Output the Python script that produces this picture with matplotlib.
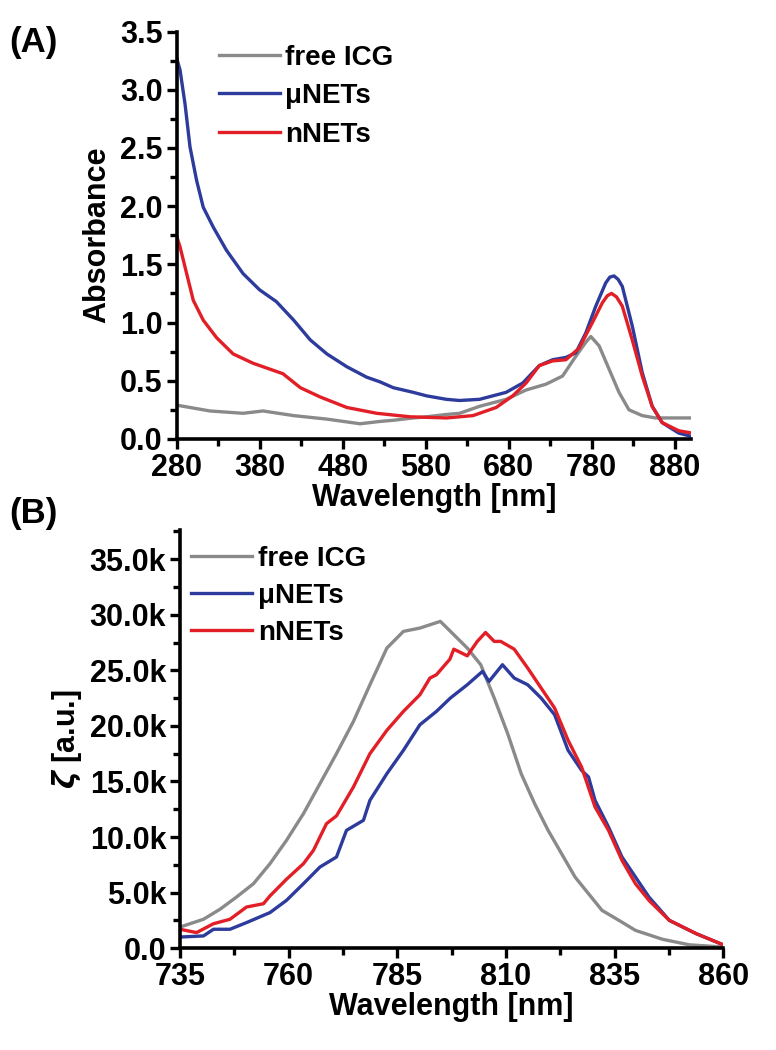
import matplotlib.pyplot as plt
from matplotlib.ticker import MultipleLocator, FuncFormatter

plt.rcParams['font.family'] = ['Liberation Sans', 'DejaVu Sans']
plt.rcParams['font.weight'] = 'bold'

GRAY = '#8a8a8a'
BLUE = '#2d3b9c'
RED = '#e21f26'

# (A) absorbance spectra
abs_icg_x = [280, 320, 360, 384, 421, 461, 501, 525, 541, 565, 581, 605, 621, 645, 677, 701,
             725, 745, 761, 773, 779, 789, 801, 813, 825, 841, 857, 901]
abs_icg_y = [0.29, 0.24, 0.22, 0.24, 0.20, 0.17, 0.13, 0.15, 0.16, 0.18, 0.19, 0.21, 0.22, 0.28,
             0.34, 0.42, 0.47, 0.54, 0.71, 0.83, 0.88, 0.80, 0.60, 0.40, 0.25, 0.20, 0.18, 0.18]

abs_mu_x = [280, 284, 290, 296, 304, 312, 324, 340, 360, 380, 400, 421, 441, 461, 485, 509,
            525, 541, 565, 581, 605, 621, 645, 677, 697, 717, 733, 749, 761, 773, 785, 797,
            802, 807, 812, 817, 829, 841, 853, 865, 885, 901]
abs_mu_y = [3.27, 3.17, 2.88, 2.51, 2.22, 1.99, 1.82, 1.62, 1.42, 1.28, 1.18, 1.02, 0.85, 0.73,
            0.62, 0.53, 0.49, 0.44, 0.40, 0.37, 0.34, 0.33, 0.34, 0.40, 0.48, 0.63, 0.68, 0.70,
            0.74, 0.91, 1.14, 1.34, 1.39, 1.40, 1.37, 1.31, 0.97, 0.57, 0.28, 0.14, 0.05, 0.02]

abs_n_x = [280, 284, 292, 300, 312, 328, 348, 372, 396, 408, 429, 453, 485, 521, 561, 605,
           637, 665, 685, 701, 717, 733, 749, 765, 781, 793, 799, 804, 810, 817, 829, 841,
           853, 865, 885, 901]
abs_n_y = [1.74, 1.65, 1.42, 1.19, 1.02, 0.87, 0.73, 0.65, 0.59, 0.56, 0.44, 0.36, 0.27, 0.22,
           0.19, 0.18, 0.20, 0.27, 0.37, 0.48, 0.63, 0.67, 0.68, 0.78, 1.00, 1.17, 1.23, 1.25,
           1.22, 1.14, 0.85, 0.54, 0.28, 0.14, 0.07, 0.05]

# (B) emission spectra
em_icg_x = [735, 740.4, 744.2, 748, 751.9, 755.7, 759.5, 763.4, 767.2, 771, 774.9, 778.7,
            782.6, 786.4, 790.2, 794.9, 798, 801.1, 804.2, 807.3, 810.4, 813.5, 816.6, 819.7,
            822.8, 825.9, 829, 832.1, 836, 839.8, 846, 852.2, 860]
em_icg_y = [1.9, 2.6, 3.5, 4.6, 5.8, 7.6, 9.7, 12.1, 14.8, 17.5, 20.4, 23.7, 27.0, 28.5, 28.8,
            29.4, 28.2, 27.0, 25.5, 22.5, 19.3, 15.7, 13.0, 10.6, 8.5, 6.4, 4.9, 3.4, 2.5, 1.6,
            0.8, 0.3, 0.1]

em_mu_x = [735, 740.4, 742.7, 746.5, 750.3, 755.7, 759.5, 763.4, 767.2, 771, 773.3, 777.2,
           778.7, 782.6, 786.4, 790.2, 794, 797.2, 801.1, 804.6, 806.1, 809.2, 811.9, 815,
           818.1, 821.2, 824.3, 827.4, 829, 830.5, 833.6, 836.7, 839.8, 842.9, 847.6, 853.8, 860]
em_mu_y = [1.0, 1.1, 1.7, 1.7, 2.3, 3.2, 4.3, 5.8, 7.3, 8.2, 10.6, 11.5, 13.3, 15.7, 17.8, 20.1,
           21.3, 22.5, 23.7, 24.9, 24.0, 25.5, 24.3, 23.7, 22.5, 21.0, 17.8, 16.0, 15.4, 13.3,
           10.9, 8.2, 6.4, 4.6, 2.5, 1.3, 0.3]

em_n_x = [735, 738.8, 742.7, 746.5, 750.3, 754.2, 755.7, 759.5, 763.4, 765.7, 768.7, 771,
          774.9, 778.7, 782.6, 786.4, 790.2, 792.5, 794, 797.1, 798, 801.1, 803.4, 805.3,
          807.3, 808.8, 811.9, 815, 818.1, 821.2, 824.3, 827.4, 830.5, 833.6, 836.7, 839.8,
          842.9, 847.6, 853.8, 860]
em_n_y = [1.7, 1.4, 2.2, 2.6, 3.7, 4.0, 4.7, 6.2, 7.6, 8.8, 11.2, 11.9, 14.5, 17.5, 19.6, 21.3,
          22.8, 24.3, 24.6, 26.0, 26.9, 26.3, 27.6, 28.4, 27.6, 27.6, 26.9, 25.2, 23.4, 21.6,
          18.7, 16.3, 12.7, 10.6, 7.9, 5.8, 4.3, 2.5, 1.3, 0.3]

labels = ['free ICG', '\u03bcNETs', 'nNETs']

fig = plt.figure(figsize=(7.76, 10.5), dpi=100)
axA = fig.add_axes([0.2277, 0.582, 0.663, 0.388])
axB = fig.add_axes([0.232, 0.097, 0.700, 0.398])

TICK = 22
LAB = 22


def style(ax):
    for s in ['top', 'right']:
        ax.spines[s].set_visible(False)
    for s in ['left', 'bottom']:
        ax.spines[s].set_linewidth(2.6)
    ax.tick_params(which='major', length=7, width=2.4, labelsize=TICK, pad=3)
    ax.tick_params(which='minor', length=5, width=2.4)


lw = 2.4
axA.plot(abs_icg_x, abs_icg_y, color=GRAY, lw=lw, label=labels[0])
axA.plot(abs_mu_x, abs_mu_y, color=BLUE, lw=lw, label=labels[1])
axA.plot(abs_n_x, abs_n_y, color=RED, lw=lw, label=labels[2])
axA.set_xlim(280, 900)
axA.set_ylim(0, 3.5)
axA.xaxis.set_major_locator(MultipleLocator(100, offset=80))
axA.xaxis.set_minor_locator(MultipleLocator(50, offset=30))
axA.yaxis.set_major_locator(MultipleLocator(0.5))
axA.yaxis.set_minor_locator(MultipleLocator(0.25))
axA.xaxis.set_major_formatter(FuncFormatter(lambda v, p: f'{v:.0f}'))
style(axA)
axA.set_xlabel('Wavelength [nm]', fontsize=LAB, fontweight='bold', labelpad=0)
axA.set_ylabel('Absorbance', fontsize=LAB, fontweight='bold', labelpad=6)
axA.legend(loc='upper left', bbox_to_anchor=(0.06, 0.995), frameon=False, fontsize=20,
           handlelength=2.2, handletextpad=0.2, labelspacing=0.45, borderaxespad=0)

axB.plot(em_icg_x, em_icg_y, color=GRAY, lw=lw, label=labels[0])
axB.plot(em_mu_x, em_mu_y, color=BLUE, lw=lw, label=labels[1])
axB.plot(em_n_x, em_n_y, color=RED, lw=lw, label=labels[2])
axB.set_xlim(735, 860)
axB.set_ylim(0, 37.6)
axB.xaxis.set_major_locator(MultipleLocator(25, offset=10))
axB.xaxis.set_minor_locator(MultipleLocator(12.5, offset=10))
axB.yaxis.set_major_locator(MultipleLocator(5))
axB.yaxis.set_minor_locator(MultipleLocator(2.5))
axB.yaxis.set_major_formatter(FuncFormatter(lambda v, p: '0.0' if v == 0 else f'{v:.1f}k'))
axB.xaxis.set_major_formatter(FuncFormatter(lambda v, p: f'{v:.0f}'))
style(axB)
axB.set_xlabel('Wavelength [nm]', fontsize=LAB, fontweight='bold', labelpad=0)
axB.set_ylabel(r'$\zeta$ [a.u.]', fontsize=LAB, fontweight='bold', labelpad=4)
axB.legend(loc='upper left', bbox_to_anchor=(0.0, 0.99), frameon=False, fontsize=20,
           handlelength=2.2, handletextpad=0.2, labelspacing=0.4, borderaxespad=0)

fig.text(0.012, 0.975, '(A)', fontsize=25, fontweight='bold', va='top')
fig.text(0.012, 0.527, '(B)', fontsize=25, fontweight='bold', va='top')

fig.savefig('out.png', dpi=100)
